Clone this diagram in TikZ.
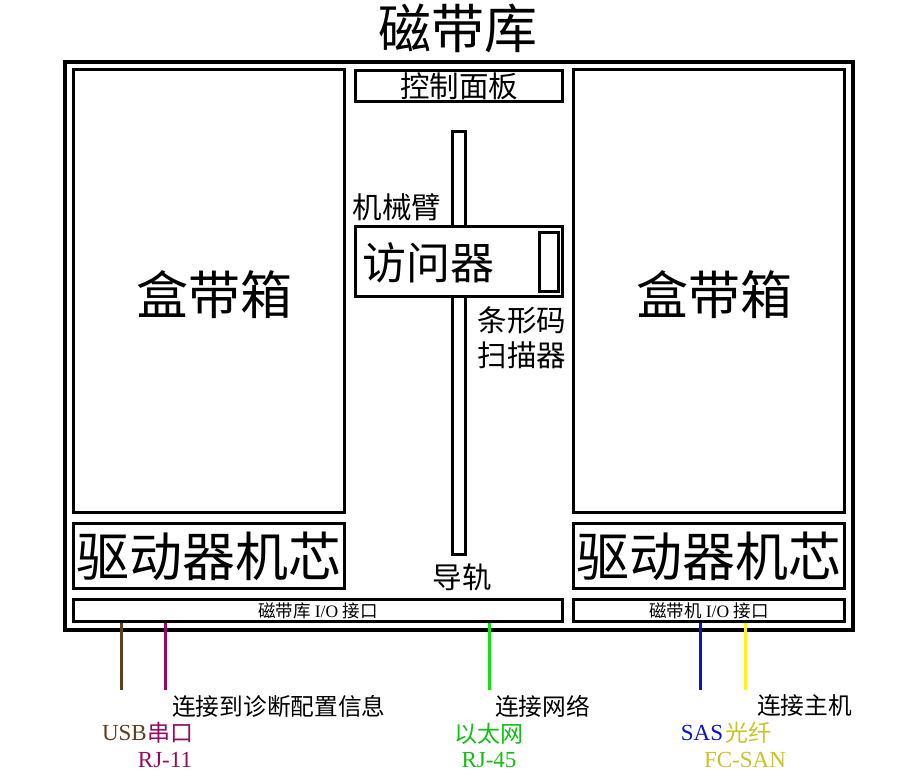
\documentclass[tikz,border=0pt]{standalone}
\usepackage{fontspec}
\setmainfont{Liberation Serif}
\newfontfamily\cjk{Noto Sans CJK SC}
\usepackage{tikz}
\usetikzlibrary{positioning}
\definecolor{UsbBrown}{RGB}{96,64,36}
\definecolor{SerialPink}{RGB}{150,10,100}
\definecolor{NetGreen}{RGB}{20,225,20}
\definecolor{SasBlue}{RGB}{10,20,200}
\definecolor{FiberYellow}{RGB}{250,245,20}
\definecolor{FiberText}{RGB}{200,195,40}

\begin{document}
\begin{tikzpicture}[
  x=1pt, y=-1pt,
  every node/.style={inner sep=0pt, align=center},
  box/.style={draw, line width=3pt, fill=white, rectangle},
  frame/.style={draw, line width=4pt, rectangle},
  big/.style={font=\cjk\fontsize{52}{52}\selectfont},
  mid/.style={font=\cjk\fontsize{29.5}{32}\selectfont},
  small/.style={font=\cjk\fontsize{23.7}{26}\selectfont},
  port/.style={font=\fontsize{23}{24}\selectfont},
  wire/.style={line width=3pt}
]
\useasboundingbox (0,0) rectangle (920,775);

\node[font=\cjk\fontsize{53}{53}\selectfont] (title) at (458,28) {磁带库};
\node[frame, minimum width=788pt, minimum height=568pt] (lib) at (459,346) {};

% cassette shelves and drives
\node[box, minimum width=271pt, minimum height=443pt] (shelfL) at (209,291) {};
\node[box, minimum width=271pt, minimum height=443pt] (shelfR) at (709,291) {};
\node[big] at (214,295) {盒带箱};
\node[big] at (714,295) {盒带箱};
\node[box, minimum width=271pt, minimum height=65pt, font=\cjk\fontsize{53}{53}\selectfont] (driveL) at (209,556) {驱动器机芯};
\node[box, minimum width=271pt, minimum height=65pt, font=\cjk\fontsize{53}{53}\selectfont] (driveR) at (709,556) {驱动器机芯};

% middle column
\node[box, minimum width=207pt, minimum height=31pt, mid] (panel) at (459,86) {控制面板};
\node[box, minimum width=13pt, minimum height=423pt] (rail) at (459,343) {};
\node[box, minimum width=207pt, minimum height=70pt] (accessor) at (459,261.5) {};
\node[font=\cjk\fontsize{44}{44}\selectfont] (accname) at (428,263) {访问器};
\node[draw, line width=2.5pt, minimum width=19pt, minimum height=59pt] (scanner) at (549,262) {};
\node[mid] (arm) at (397,207) {机械臂};
\node[mid] (code) at (522,320) {条形码};
\node[mid, below=8pt of code] (scan) {扫描器};
\node[mid] (railname) at (462,577) {导轨};

% i/o ports
\node[box, minimum width=489pt, minimum height=22pt] (libio) at (318,610.5) {\cjk\fontsize{17.5}{18}\selectfont 磁带库 \rmfamily\fontsize{17.5}{18}\selectfont I/O \cjk 接口};
\node[box, minimum width=271pt, minimum height=22pt] (driveio) at (709,610.5) {\cjk\fontsize{17.5}{18}\selectfont 磁带机 \rmfamily\fontsize{17.5}{18}\selectfont I/O \cjk 接口};

% cables
\coordinate (usb) at (121,690);
\coordinate (serial) at (165,690);
\coordinate (eth) at (489,690);
\coordinate (sas) at (700,690);
\coordinate (fiber) at (745,690);
\draw[wire, UsbBrown] (libio.south -| usb) -- (usb);
\draw[wire, SerialPink] (libio.south -| serial) -- (serial);
\draw[wire, NetGreen] (libio.south -| eth) -- (eth);
\draw[wire, SasBlue] (driveio.south -| sas) -- (sas);
\draw[wire, FiberYellow] (driveio.south -| fiber) -- (fiber);

\node[small, anchor=west] (diag) at (172,706) {连接到诊断配置信息};
\node[small, anchor=west] (net) at (495,706) {连接网络};
\node[small, anchor=west] (host) at (757,706) {连接主机};

\node[port, UsbBrown, anchor=east] (usbname) at (147,733) {USB};
\node[font=\cjk\fontsize{23}{24}\selectfont, SerialPink, anchor=west] (serialname) at (147,733) {串口};
\node[port, SerialPink] (rj11) at (165,760) {RJ-11};
\node[font=\cjk\fontsize{23}{24}\selectfont, NetGreen!85!black] (ethname) at (489,734) {以太网};
\node[port, NetGreen!85!black] (rj45) at (489,760) {RJ-45};
\node[port, SasBlue] (sasname) at (702,733) {SAS};
\node[font=\cjk\fontsize{23}{24}\selectfont, FiberText] (fibername) at (748,733) {光纤};
\node[port, FiberText] (fcsan) at (745,760) {FC-SAN};
\end{tikzpicture}
\end{document}
